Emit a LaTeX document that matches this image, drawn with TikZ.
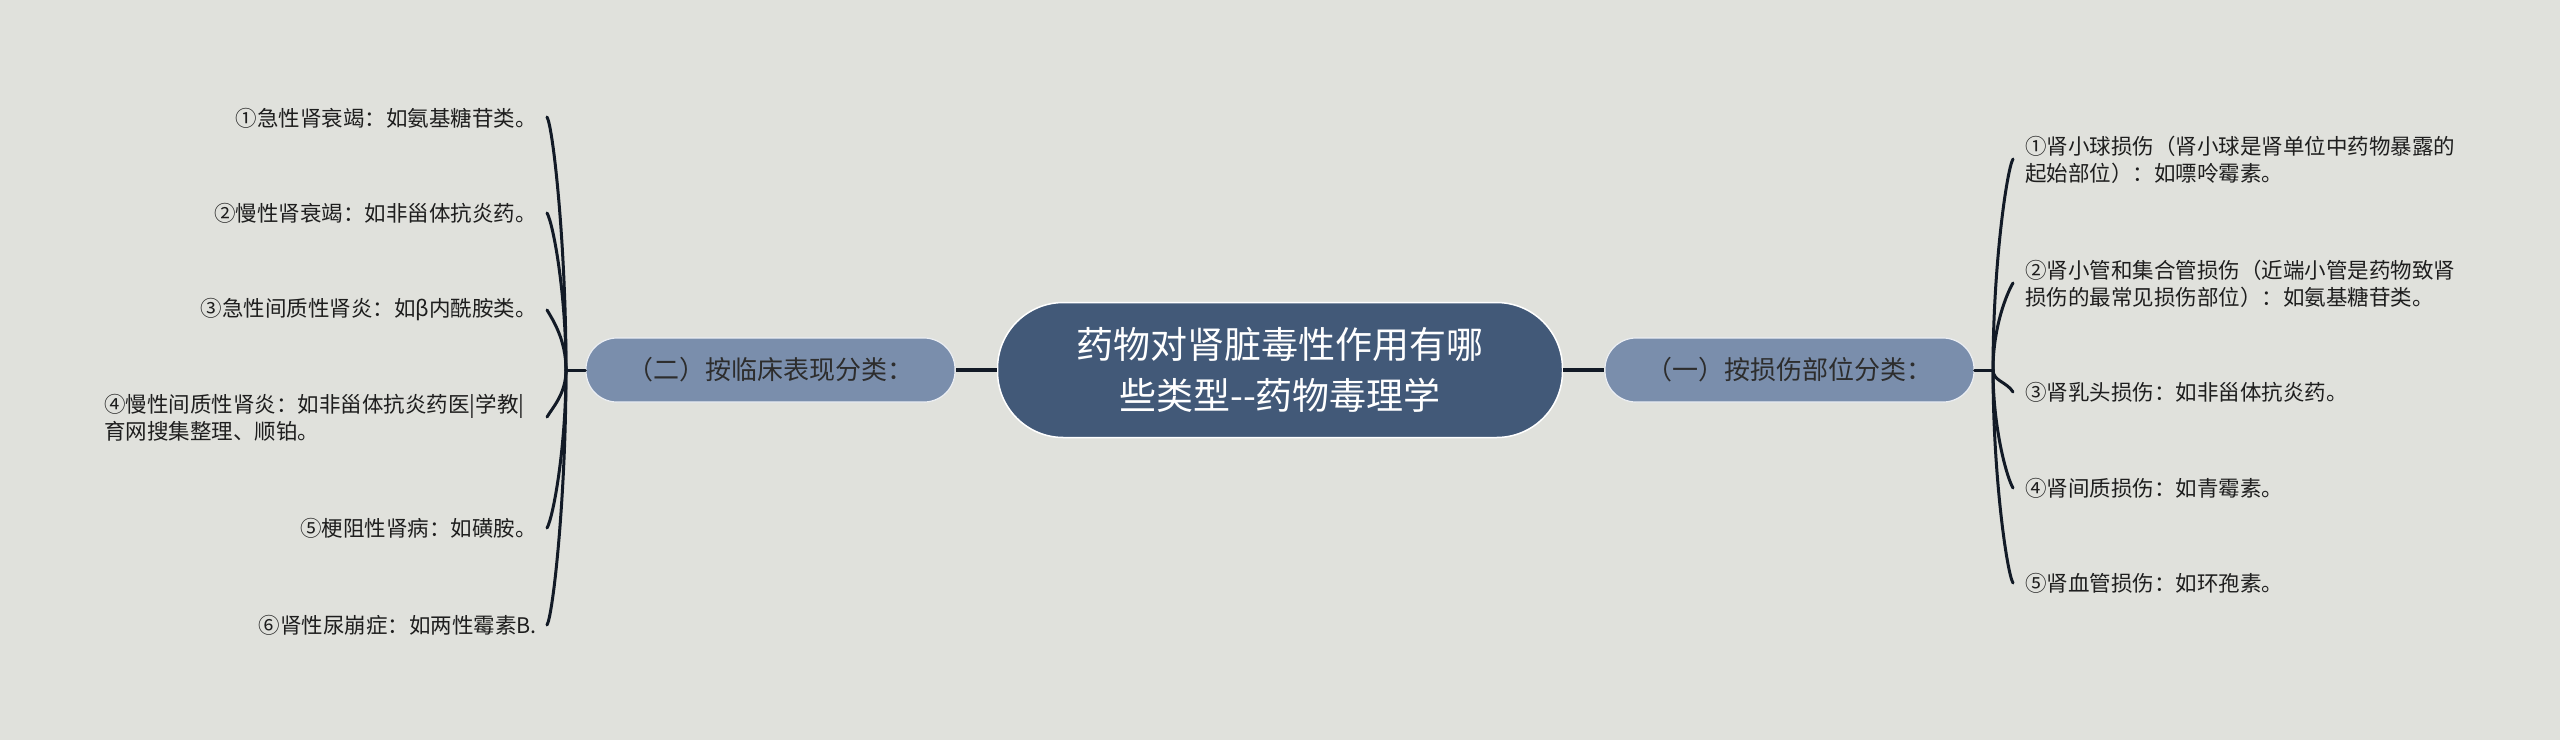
\documentclass[tikz,border=0pt]{standalone}
\usepackage{fontspec}
\setmainfont{Noto Sans CJK SC}
\usetikzlibrary{calc}
\definecolor{bg}{RGB}{224,225,220}
\definecolor{rootc}{RGB}{66,89,120}
\definecolor{subc}{RGB}{122,142,172}
\definecolor{linec}{RGB}{18,26,38}
\definecolor{leafc}{RGB}{30,30,30}
\definecolor{subtext}{RGB}{45,45,45}
\begin{document}
\begin{tikzpicture}[x=1pt,y=-1pt,
  rootbox/.style={rectangle, rounded corners=66pt, minimum width=565pt, minimum height=135pt,
    fill=rootc, draw=white, line width=1.5pt, text=white, inner sep=0pt,
    font=\fontsize{37}{51}\selectfont, align=center},
  subbox/.style={rectangle, rounded corners=31pt, minimum width=369pt, minimum height=64pt,
    fill=subc, draw=white!85!subc, line width=1.2pt, text=subtext, inner sep=0pt,
    font=\fontsize{26}{32}\selectfont},
  leafL/.style={anchor=east, inner sep=0pt, text=leafc, font=\fontsize{21.5}{27}\selectfont, align=right},
  leafR/.style={anchor=west, inner sep=0pt, text=leafc, font=\fontsize{21.5}{27}\selectfont, align=left},
  mainline/.style={draw=linec, line width=4pt},
  branch/.style={draw=linec, line width=3pt, line cap=round}
]
\fill[bg] (0,0) rectangle (2560,740);
\useasboundingbox (0,0) rectangle (2560,740);

% root and main branches
\node[rootbox] (root) at (1280,370) {药物对肾脏毒性作用有哪\\些类型-{}-药物毒理学};
\node[subbox] (subL) at (770.5,370) {（二）按临床表现分类：};
\node[subbox] (subR) at (1789.5,370) {（一）按损伤部位分类：};
\draw[mainline] (root.west) -- (subL.east);
\draw[mainline] (root.east) -- (subR.west);

% spine points
\coordinate (LS) at (566,370);
\coordinate (RS) at (1993,370);
\draw[branch] (subL.west) -- (LS);
\draw[branch] (subR.east) -- (RS);

% left leaves
\coordinate (le1) at (547,117);
\coordinate (le2) at (547,213);
\coordinate (le3) at (547,310);
\coordinate (le4) at (547,417);
\coordinate (le5) at (547,528);
\coordinate (le6) at (547,625);
\node[leafL] (l1) at (537,118) {①急性肾衰竭：如氨基糖苷类。};
\node[leafL] (l2) at (537,213) {②慢性肾衰竭：如非甾体抗炎药。};
\node[leafL] (l3) at (537,310) {③急性间质性肾炎：如β内酰胺类。};
\node[leafR] (l4) at (104,418) {④慢性间质性肾炎：如非甾体抗炎药医|学教|\\育网搜集整理、顺铂。};
\node[leafL] (l5) at (537,528) {⑤梗阻性肾病：如磺胺。};
\node[leafL] (l6) at (537,625) {⑥肾性尿崩症：如两性霉素B.};
\foreach \e/\s in {le1/1,le2/1,le3/1,le4/-1,le5/-1,le6/-1}
  \draw[branch] (LS) .. controls ($(LS)!0.5!(LS |- \e)$) and ($(\e)+(6,10*\s)$) .. (\e);

% right leaves
\coordinate (re1) at (2013,159);
\coordinate (re2) at (2013,283);
\coordinate (re3) at (2013,392);
\coordinate (re4) at (2013,488);
\coordinate (re5) at (2013,583);
\node[leafR] (r1) at (2025,160) {①肾小球损伤（肾小球是肾单位中药物暴露的\\起始部位）：如嘌呤霉素。};
\node[leafR] (r2) at (2025,284) {②肾小管和集合管损伤（近端小管是药物致肾\\损伤的最常见损伤部位）：如氨基糖苷类。};
\node[leafR] (r3) at (2025,392) {③肾乳头损伤：如非甾体抗炎药。};
\node[leafR] (r4) at (2025,488) {④肾间质损伤：如青霉素。};
\node[leafR] (r5) at (2025,583) {⑤肾血管损伤：如环孢素。};
\foreach \e/\s in {re1/1,re2/1,re3/-1,re4/-1,re5/-1}
  \draw[branch] (RS) .. controls ($(RS)!0.5!(RS |- \e)$) and ($(\e)+(-6,10*\s)$) .. (\e);
\end{tikzpicture}
\end{document}
